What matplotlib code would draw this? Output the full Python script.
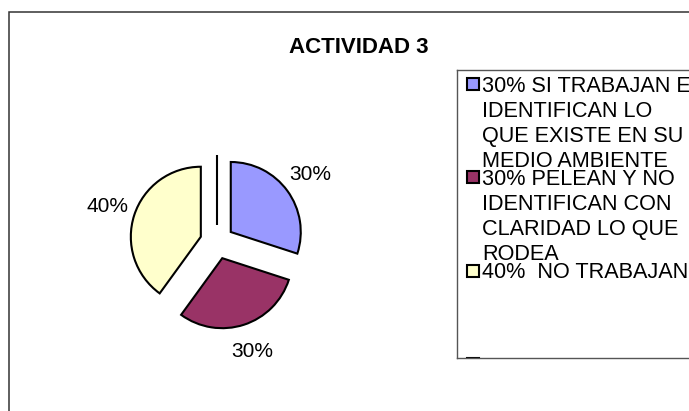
import matplotlib
matplotlib.use("Agg")
import matplotlib.pyplot as plt
from matplotlib.patches import Rectangle

plt.rcParams['font.family'] = ['Liberation Sans', 'DejaVu Sans']

# ---- data ----
title = "ACTIVIDAD 3"
values = [30, 30, 40, 0]
pct_labels = ["30%", "30%", "40%", ""]
colors = ["#9999FF", "#993366", "#FFFFCC", "#CCFFFF"]
legend_labels = [
    "30% SI TRABAJAN E\nIDENTIFICAN LO\nQUE EXISTE EN SU\nMEDIO AMBIENTE",
    "30% PELEAN Y NO\nIDENTIFICAN CON\nCLARIDAD LO QUE\nRODEA",
    "40%  NO TRABAJAN",
    "",
]

W, H = 689, 411
fig = plt.figure(figsize=(W / 100, H / 100), dpi=100)

def px_rect(left, top, width, height):
    """Convert pixel box (origin top-left) to figure fraction rect."""
    return [left / W, (H - top - height) / H, width / W, height / H]

# outer chart border
fig.patches.append(Rectangle((9 / W, -0.1), 1.2, (H - 12) / H + 0.1,
                             transform=fig.transFigure, fill=False,
                             edgecolor='#333333', linewidth=1.1))

# title
fig.text(359 / W, 1 - 53 / H, title, ha='center', va='baseline',
         fontsize=16, fontweight='bold')

# ---- pie ----
R = 70  # pixel radius
half = 1.8
cx, cy = 217, 242
ax = fig.add_axes(px_rect(cx - half * R, cy - half * R, 2 * half * R, 2 * half * R))
wedges, texts = ax.pie(values, colors=colors, startangle=90, counterclock=False,
                       explode=[0.243] * len(values), labels=pct_labels,
                       labeldistance=1.40,
                       wedgeprops=dict(edgecolor='black', linewidth=1.5),
                       textprops=dict(fontsize=15))
for t in texts:
    t.set_ha('center')
    t.set_va('center')
ax.set_xlim(-half, half)
ax.set_ylim(-half, half)
ax.set_aspect('equal')
ax.axis('off')

# ---- legend ----
L_left, L_top, L_bottom = 457, 70, 358
L_w = W - L_left + 40
lax = fig.add_axes(px_rect(L_left, L_top, L_w, L_bottom - L_top))
lax.set_xlim(L_left, L_left + L_w)
lax.set_ylim(L_bottom, L_top)
lax.set_xticks([])
lax.set_yticks([])
for s in lax.spines.values():
    s.set_edgecolor('#555555')
    s.set_linewidth(1.0)
lax.patch.set_alpha(0)

first_y = 84.5
pitch = 93
line_h = 25
for i, (lab, col) in enumerate(zip(legend_labels, colors)):
    y0 = first_y + i * pitch
    lax.add_patch(Rectangle((467, y0 - 6), 12, 12, facecolor=col,
                            edgecolor='black', linewidth=1.5, clip_on=True))
    for j, line in enumerate(lab.split("\n")):
        lax.text(482, y0 + j * line_h + 7.5, line, ha='left', va='baseline',
                 fontsize=15.6, clip_on=True)

fig.savefig("out.png", dpi=100)
